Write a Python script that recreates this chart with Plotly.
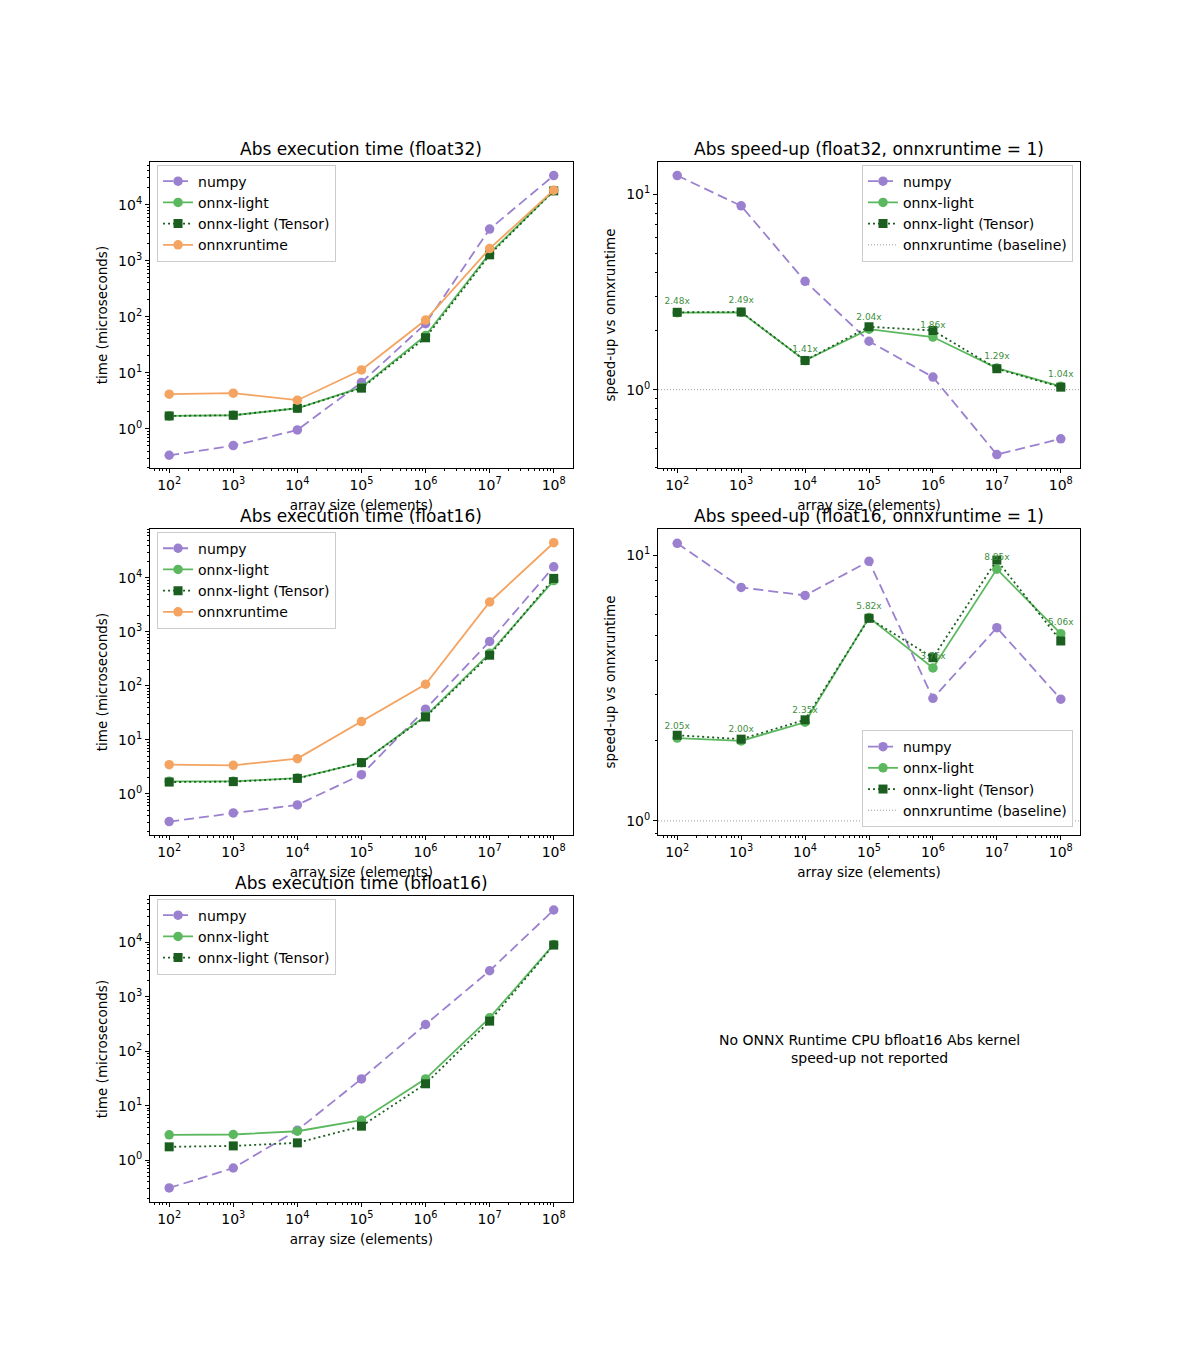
import plotly.graph_objects as go

# array sizes (elements)
sizes = [1e2, 1e3, 1e4, 1e5, 1e6, 1e7, 1e8]

# float32 execution time (microseconds)
f32_numpy = [0.336, 0.50, 0.95, 6.7, 75, 3660, 33000]
f32_light = [1.69, 1.74, 2.32, 5.45, 46, 1350, 17800]
f32_tensor = [1.69, 1.74, 2.32, 5.3, 42, 1270, 17600]
f32_ort = [4.14, 4.31, 3.23, 11.2, 87, 1640, 18100]

# float32 speed-up vs onnxruntime
f32_sp_numpy = [12.5, 8.74, 3.59, 1.77, 1.16, 0.465, 0.56]
f32_sp_light = [2.48, 2.49, 1.41, 2.04, 1.86, 1.29, 1.04]
f32_sp_tensor = [2.49, 2.50, 1.41, 2.10, 2.01, 1.28, 1.03]

# float16 execution time (microseconds)
f16_numpy = [0.306, 0.443, 0.624, 2.26, 37, 664, 16000]
f16_light = [1.70, 1.70, 1.96, 3.77, 27.5, 400, 8900]
f16_tensor = [1.65, 1.68, 1.93, 3.78, 26.5, 369, 9770]
f16_ort = [3.46, 3.37, 4.48, 21.8, 107, 3570, 44700]

# float16 speed-up vs onnxruntime
f16_sp_numpy = [11.07, 7.55, 7.05, 9.47, 2.89, 5.33, 2.87]
f16_sp_light = [2.05, 2.00, 2.35, 5.82, 3.76, 8.85, 5.06]
f16_sp_tensor = [2.10, 2.03, 2.40, 5.78, 4.11, 9.57, 4.75]

# bfloat16 execution time (microseconds)
bf16_numpy = [0.31, 0.72, 3.55, 31, 308, 2980, 38700]
bf16_light = [2.92, 2.96, 3.40, 5.42, 31, 409, 9060]
bf16_tensor = [1.76, 1.83, 2.08, 4.21, 25.2, 355, 8810]

# tick labels
x_tickvals = [1e2, 1e3, 1e4, 1e5, 1e6, 1e7, 1e8]
x_ticktext = ["10<sup>2</sup>", "10<sup>3</sup>", "10<sup>4</sup>", "10<sup>5</sup>",
              "10<sup>6</sup>", "10<sup>7</sup>", "10<sup>8</sup>"]
time_tickvals = [1, 10, 100, 1e3, 1e4]
time_ticktext = ["10<sup>0</sup>", "10<sup>1</sup>", "10<sup>2</sup>", "10<sup>3</sup>", "10<sup>4</sup>"]
sp_tickvals = [1, 10]
sp_ticktext = ["10<sup>0</sup>", "10<sup>1</sup>"]

PURPLE = "#9b80cf"
GREEN = "#5cb85f"
DKGREEN = "#1b5e20"
ORANGE = "#f4a460"
LABEL_GREEN = "#3f8f3f"

FONT = "DejaVu Sans"

fig = go.Figure()

# panel definitions: (xaxis id, yaxis id, legend id)
panels = {
    "f32_time": ("x", "y", "legend"),
    "f32_sp": ("x2", "y2", "legend2"),
    "f16_time": ("x3", "y3", "legend3"),
    "f16_sp": ("x4", "y4", "legend4"),
    "bf16_time": ("x5", "y5", "legend5"),
}


def add_series(panel, name, y, color, dash, symbol, size):
    xa, ya, lg = panels[panel]
    fig.add_trace(go.Scatter(
        x=sizes, y=y, name=name, mode="lines+markers",
        xaxis=xa, yaxis=ya, legend=lg,
        line=dict(color=color, width=1.8, dash=dash),
        marker=dict(color=color, size=size, symbol=symbol),
    ))


def add_times(panel, numpy_v, light_v, tensor_v, ort_v=None):
    add_series(panel, "numpy", numpy_v, PURPLE, "10px,5px", "circle", 9.5)
    add_series(panel, "onnx-light", light_v, GREEN, "solid", "circle", 9.5)
    add_series(panel, "onnx-light (Tensor)", tensor_v, DKGREEN, "2px,3px", "square", 9)
    if ort_v is not None:
        add_series(panel, "onnxruntime", ort_v, ORANGE, "solid", "circle", 9.5)


def add_speedups(panel, numpy_v, light_v, tensor_v):
    xa, ya, lg = panels[panel]
    add_series(panel, "numpy", numpy_v, PURPLE, "10px,5px", "circle", 9.5)
    add_series(panel, "onnx-light", light_v, GREEN, "solid", "circle", 9.5)
    add_series(panel, "onnx-light (Tensor)", tensor_v, DKGREEN, "2px,3px", "square", 9)
    fig.add_trace(go.Scatter(
        x=sizes, y=light_v, mode="markers+text",
        text=["{:.2f}x".format(v) for v in light_v],
        textposition="top center",
        textfont=dict(size=9, color=LABEL_GREEN, family=FONT),
        marker=dict(size=9, opacity=0),
        xaxis=xa, yaxis=ya, showlegend=False, hoverinfo="skip",
    ))
    fig.add_shape(
        type="line", xref=xa + " domain", yref=ya, x0=0, x1=1, y0=1, y1=1,
        line=dict(color="#808080", width=0.8, dash="1px,2px"),
        showlegend=True, name="onnxruntime (baseline)", legend=lg,
        layer="below",
    )


add_times("f32_time", f32_numpy, f32_light, f32_tensor, f32_ort)
add_speedups("f32_sp", f32_sp_numpy, f32_sp_light, f32_sp_tensor)
add_times("f16_time", f16_numpy, f16_light, f16_tensor, f16_ort)
add_speedups("f16_sp", f16_sp_numpy, f16_sp_light, f16_sp_tensor)
add_times("bf16_time", bf16_numpy, bf16_light, bf16_tensor)

# layout geometry (paper fractions; page has an 8px body margin)
xdom_left = [0.1183, 0.4708]
xdom_right = [0.5417, 0.8933]
ydom = [[0.6593, 0.8859], [0.3874, 0.6141], [0.1156, 0.3422]]

minor_vals = [m * 10.0 ** e for e in range(-1, 9) for m in range(2, 10)]

axis_common = dict(
    type="log", showline=True, mirror=True, linecolor="black", linewidth=1,
    ticks="outside", ticklen=4, tickcolor="black", showgrid=False, zeroline=False,
    tickfont=dict(size=14, color="black", family=FONT),
    minor=dict(ticks="outside", ticklen=2, tickcolor="black", tickvals=minor_vals, showgrid=False),
)
xtitle = dict(text="array size (elements)", font=dict(size=13.5, color="black", family=FONT), standoff=8)

layout_axes = {}
specs = [
    ("xaxis", "yaxis", xdom_left, ydom[0], [-0.70, 4.76], "time (microseconds)", time_tickvals, time_ticktext),
    ("xaxis2", "yaxis2", xdom_right, ydom[0], [-0.401, 1.166], "speed-up vs onnxruntime", sp_tickvals, sp_ticktext),
    ("xaxis3", "yaxis3", xdom_left, ydom[1], [-0.763, 4.905], "time (microseconds)", time_tickvals, time_ticktext),
    ("xaxis4", "yaxis4", xdom_right, ydom[1], [-0.053, 1.098], "speed-up vs onnxruntime", sp_tickvals, sp_ticktext),
    ("xaxis5", "yaxis5", xdom_left, ydom[2], [-0.765, 4.844], "time (microseconds)", time_tickvals, time_ticktext),
]
for i, (xk, yk, xd, yd, yr, ylab, tv, tt) in enumerate(specs):
    n = "" if i == 0 else str(i + 1)
    layout_axes[xk] = dict(axis_common, domain=xd, anchor="y" + n, range=[1.7, 8.3],
                           tickmode="array", tickvals=x_tickvals, ticktext=x_ticktext, title=xtitle)
    layout_axes[yk] = dict(axis_common, domain=yd, anchor="x" + n, range=yr,
                           tickmode="array", tickvals=tv, ticktext=tt,
                           title=dict(text=ylab, font=dict(size=13.5, color="black", family=FONT), standoff=7))

legend_common = dict(
    bgcolor="rgba(255,255,255,0.85)", bordercolor="#cccccc", borderwidth=1,
    font=dict(size=14, color="black", family=FONT), itemwidth=30,
    tracegroupgap=0,
)
legends = {
    "legend": dict(legend_common, x=0.1242, y=0.884, xanchor="left", yanchor="top"),
    "legend2": dict(legend_common, x=0.8875, y=0.884, xanchor="right", yanchor="top"),
    "legend3": dict(legend_common, x=0.1242, y=0.6121, xanchor="left", yanchor="top"),
    "legend4": dict(legend_common, x=0.8875, y=0.3933, xanchor="right", yanchor="bottom"),
    "legend5": dict(legend_common, x=0.1242, y=0.3403, xanchor="left", yanchor="top"),
}

titles = [
    ("Abs execution time (float32)", xdom_left, ydom[0]),
    ("Abs speed-up (float32, onnxruntime = 1)", xdom_right, ydom[0]),
    ("Abs execution time (float16)", xdom_left, ydom[1]),
    ("Abs speed-up (float16, onnxruntime = 1)", xdom_right, ydom[1]),
    ("Abs execution time (bfloat16)", xdom_left, ydom[2]),
]
annotations = []
for text, xd, yd in titles:
    annotations.append(dict(
        text=text, xref="paper", yref="paper", x=(xd[0] + xd[1]) / 2, y=yd[1],
        xanchor="center", yanchor="bottom", yshift=1, showarrow=False,
        font=dict(size=17, color="black", family=FONT),
    ))
annotations.append(dict(
    text="No ONNX Runtime CPU bfloat16 Abs kernel<br>speed-up not reported",
    xref="paper", yref="paper", x=(xdom_right[0] + xdom_right[1]) / 2,
    y=(ydom[2][0] + ydom[2][1]) / 2, xanchor="center", yanchor="middle",
    showarrow=False, font=dict(size=14, color="black", family=FONT),
))

fig.update_layout(
    width=1200, height=1350,
    margin=dict(l=0, r=0, t=0, b=0),
    paper_bgcolor="white", plot_bgcolor="white",
    font=dict(family=FONT, color="black"),
    annotations=annotations,
    **layout_axes,
    **legends,
)

fig.write_html("out.html")
